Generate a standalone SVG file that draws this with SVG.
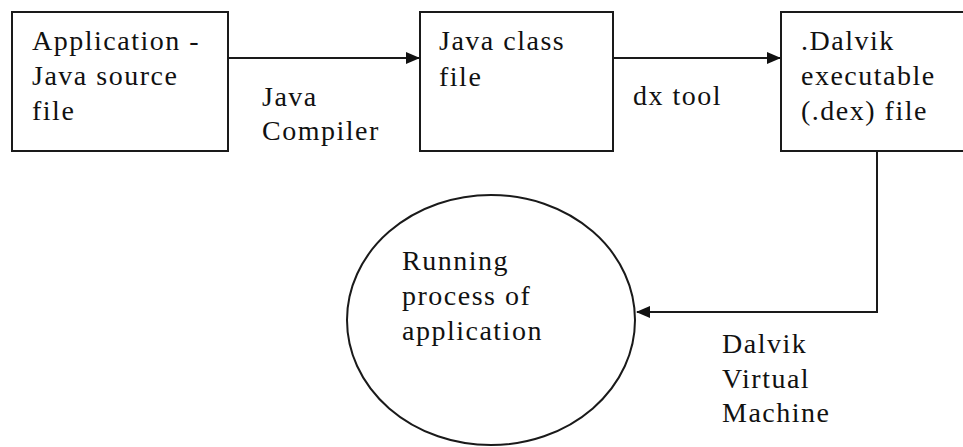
<svg xmlns="http://www.w3.org/2000/svg" width="963" height="447" viewBox="0 0 963 447">
<style>
.box{fill:#fff;stroke:#1a1a1a;stroke-width:2}
.t{font-family:"Liberation Serif","Times New Roman",serif;font-size:28px;letter-spacing:1.5px;fill:#111}
.c{fill:none;stroke:#1a1a1a;stroke-width:2}
</style>
<defs>
<marker id="ah" markerWidth="14" markerHeight="12" refX="13" refY="6" orient="auto" markerUnits="userSpaceOnUse">
<path d="M0,0 L14,6 L0,12 Z" fill="#111"/>
</marker>
</defs>
<rect width="963" height="447" fill="#fff"/>
<g id="connectors">
<line class="c" x1="228" y1="58" x2="419" y2="58" marker-end="url(#ah)"/>
<line class="c" x1="613" y1="58" x2="780" y2="58" marker-end="url(#ah)"/>
<polyline class="c" points="877,151 877,312 637,312" marker-end="url(#ah)"/>
<text class="t" x="262" y="106">Java</text>
<text class="t" x="262" y="140">Compiler</text>
<text class="t" x="633" y="105">dx tool</text>
<text class="t" x="722" y="353">Dalvik</text>
<text class="t" x="722" y="388">Virtual</text>
<text class="t" x="722" y="422">Machine</text>
</g>
<g id="source">
<rect class="box" x="12" y="12" width="216" height="139"/>
<text class="t" x="32" y="50">Application -</text>
<text class="t" x="32" y="85">Java source</text>
<text class="t" x="32" y="120">file</text>
</g>
<g id="classfile">
<rect class="box" x="420" y="12" width="193" height="139"/>
<text class="t" x="439" y="50">Java class</text>
<text class="t" x="439" y="86">file</text>
</g>
<g id="dex">
<rect class="box" x="781" y="12" width="200" height="139"/>
<text class="t" x="801" y="50">.Dalvik</text>
<text class="t" x="801" y="85">executable</text>
<text class="t" x="801" y="120">(.dex) file</text>
</g>
<g id="process">
<ellipse class="box" cx="491" cy="320" rx="144" ry="125"/>
<text class="t" x="402" y="270">Running</text>
<text class="t" x="402" y="305">process of</text>
<text class="t" x="402" y="340">application</text>
</g>
</svg>
